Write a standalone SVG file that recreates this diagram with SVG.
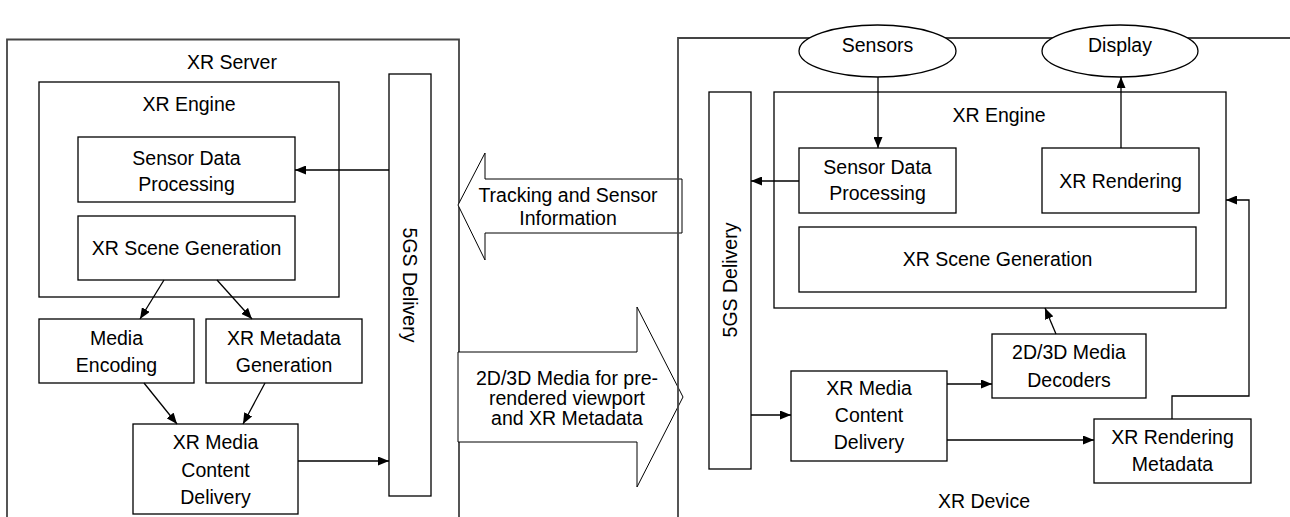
<svg xmlns="http://www.w3.org/2000/svg" width="1290" height="517" viewBox="0 0 1290 517">
<style>
text{font-family:"Liberation Sans",Arial,sans-serif;font-size:19.5px;fill:#000;text-anchor:middle}
.box{fill:#fff;stroke:#000;stroke-width:1.3}
.outer{fill:none;stroke:#444;stroke-width:1.8}
.ell{fill:#fff;stroke:#000;stroke-width:1.3}
.con{fill:none;stroke:#000;stroke-width:1.3}
.big{fill:#fff;stroke:#000;stroke-width:1}
</style>
<defs>
<marker id="arr" markerUnits="userSpaceOnUse" markerWidth="11" markerHeight="9" refX="11" refY="4.5" orient="auto">
<path d="M0,0 L11,4.5 L0,9 z" fill="#000"/>
</marker>
</defs>
<rect width="1290" height="517" fill="#fff"/>

<!-- XR Server -->
<g id="xr-server">
<path class="outer" d="M7,517 V39.5 H459 V517"/>
<text x="232" y="69">XR Server</text>
</g>
<g id="server-engine">
<rect class="box" x="39" y="82" width="300" height="215"/>
<text x="189" y="111">XR Engine</text>
</g>
<g id="server-sensor-data">
<rect class="box" x="78" y="137" width="217" height="65"/>
<text x="186.5" y="165">Sensor Data</text>
<text x="186.5" y="191">Processing</text>
</g>
<g id="server-scene-gen">
<rect class="box" x="78" y="216" width="217" height="64"/>
<text x="186.5" y="255">XR Scene Generation</text>
</g>
<g id="server-media-encoding">
<rect class="box" x="39" y="319" width="155" height="64"/>
<text x="116.5" y="345">Media</text>
<text x="116.5" y="372">Encoding</text>
</g>
<g id="server-metadata-gen">
<rect class="box" x="206" y="319" width="156" height="64"/>
<text x="284" y="345">XR Metadata</text>
<text x="284" y="372">Generation</text>
</g>
<g id="server-content-delivery">
<rect class="box" x="133" y="424" width="165" height="90"/>
<text x="215.5" y="449">XR Media</text>
<text x="215.5" y="477">Content</text>
<text x="215.5" y="504">Delivery</text>
</g>
<g id="server-5gs">
<rect class="box" x="389" y="74" width="42" height="422"/>
<text transform="translate(410,285) rotate(90)" x="0" y="7">5GS Delivery</text>
</g>

<!-- Big arrows -->
<g id="tracking-arrow">
<polygon class="big" points="458,205 485,153 485,179 682,179 682,233 485,233 485,260"/>
<text x="568" y="202">Tracking and Sensor</text>
<text x="568" y="225">Information</text>
</g>
<g id="media-arrow">
<polygon class="big" points="458,352 637,352 637,307 683,397 637,487 637,442 458,442"/>
<text x="567" y="385">2D/3D Media for pre-</text>
<text x="567" y="405">rendered viewport</text>
<text x="567" y="425">and XR Metadata</text>
</g>

<!-- XR Device -->
<g id="xr-device">
<path class="outer" d="M678,517 V38 H1290"/>
<text x="984" y="508">XR Device</text>
</g>
<g id="sensors">
<ellipse class="ell" cx="877.5" cy="51" rx="78.5" ry="26"/>
<text x="877.5" y="52">Sensors</text>
</g>
<g id="display">
<ellipse class="ell" cx="1120" cy="51" rx="78" ry="26"/>
<text x="1120" y="52">Display</text>
</g>
<g id="device-engine">
<rect class="box" x="774" y="92" width="452" height="216"/>
<text x="999" y="122">XR Engine</text>
</g>
<g id="device-sensor-data">
<rect class="box" x="799" y="148" width="157" height="65"/>
<text x="877.5" y="174">Sensor Data</text>
<text x="877.5" y="200">Processing</text>
</g>
<g id="device-rendering">
<rect class="box" x="1042" y="148" width="157" height="65"/>
<text x="1120.5" y="188">XR Rendering</text>
</g>
<g id="device-scene-gen">
<rect class="box" x="799" y="227" width="397" height="65"/>
<text x="997.5" y="266">XR Scene Generation</text>
</g>
<g id="device-decoders">
<rect class="box" x="992" y="334" width="154" height="64"/>
<text x="1069" y="359">2D/3D Media</text>
<text x="1069" y="387">Decoders</text>
</g>
<g id="device-content-delivery">
<rect class="box" x="791" y="371" width="156" height="90"/>
<text x="869" y="395">XR Media</text>
<text x="869" y="422">Content</text>
<text x="869" y="449">Delivery</text>
</g>
<g id="device-rendering-metadata">
<rect class="box" x="1094" y="419" width="157" height="64"/>
<text x="1172.5" y="444">XR Rendering</text>
<text x="1172.5" y="471">Metadata</text>
</g>
<g id="device-5gs">
<rect class="box" x="709" y="92" width="42" height="377"/>
<text transform="translate(730,280) rotate(-90)" x="0" y="7">5GS Delivery</text>
</g>

<!-- Connectors -->
<g id="connectors">
<path class="con" d="M389,170 H295" marker-end="url(#arr)"/>
<path class="con" d="M164,280 L140,319" marker-end="url(#arr)"/>
<path class="con" d="M217,280 L252,319" marker-end="url(#arr)"/>
<path class="con" d="M144,383 L177,424" marker-end="url(#arr)"/>
<path class="con" d="M265,383 L243,424" marker-end="url(#arr)"/>
<path class="con" d="M298,461 H389" marker-end="url(#arr)"/>
<path class="con" d="M878,77 V148" marker-end="url(#arr)"/>
<path class="con" d="M1121,148 V77" marker-end="url(#arr)"/>
<path class="con" d="M799,181 H751" marker-end="url(#arr)"/>
<path class="con" d="M751,415 H791" marker-end="url(#arr)"/>
<path class="con" d="M947,384 H992" marker-end="url(#arr)"/>
<path class="con" d="M947,440 H1094" marker-end="url(#arr)"/>
<path class="con" d="M1056,334 L1045,308" marker-end="url(#arr)"/>
<path class="con" d="M1172,419 V396 H1249 V200 H1226" marker-end="url(#arr)"/>
</g>
</svg>
